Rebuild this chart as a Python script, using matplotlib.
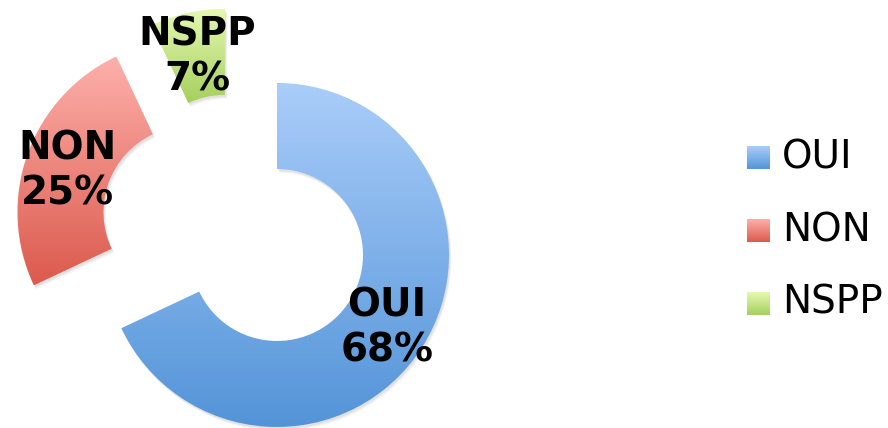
import matplotlib.pyplot as plt
import numpy as np
from matplotlib.colors import LinearSegmentedColormap
from matplotlib.patches import Rectangle, Wedge

labels = ['OUI', 'NON', 'NSPP']
values = [68, 25, 7]
top_colors = ['#aacdfa', '#fdb0ab', '#e5f9b2']
bottom_colors = ['#5394d8', '#dc5a4d', '#a6cf5e']

W, H = 888, 428
fig = plt.figure(figsize=(W / 100, H / 100), dpi=100)
ax = fig.add_axes([0, 0, 1, 1])

R = 172
center = (235.6, H - 228.7)
# pie's explode is an absolute offset, so scale it by the radius
wedges, _ = ax.pie(values, startangle=90, counterclock=False, explode=[0.285 * R] * 3,
                   radius=R, center=center, wedgeprops=dict(width=R / 2, linewidth=0))

grad = np.linspace(0, 1, 256).reshape(-1, 1)


def fill_gradient(patch, i):
    cmap = LinearSegmentedColormap.from_list('g%d' % i, [bottom_colors[i], top_colors[i]])
    bb = patch.get_path().get_extents(patch.get_patch_transform())
    im = ax.imshow(grad, extent=[bb.x0, bb.x1, bb.y0, bb.y1], origin='lower',
                   cmap=cmap, aspect='auto', zorder=2, interpolation='bicubic')
    im.set_clip_path(patch)
    patch.set_facecolor('none')


for i, w in enumerate(wedges):
    # soft shadow
    for k, a in [(4, 0.06), (3, 0.08), (2, 0.1)]:
        sh = Wedge((w.center[0] + k * 0.6, w.center[1] - k), w.r, w.theta1, w.theta2,
                   width=w.width, facecolor='#808080', alpha=a, linewidth=0, zorder=1)
        ax.add_patch(sh)
    fill_gradient(w, i)

# slice labels (block centres, pixel layout)
label_pos = [(387, 328), (67, 171), (197, 57)]
for (x, y), lab, v in zip(label_pos, labels, values):
    ax.text(x, H - y, '%s\n%d%%' % (lab, v), ha='center', va='center', fontsize=28,
            fontweight='bold', linespacing=1.25, color='black', zorder=5)

# legend
for i, lab in enumerate(labels):
    yc = H - (157 + 73 * i)
    r = Rectangle((747, yc - 11.5), 23, 23, facecolor='none', linewidth=0)
    ax.add_patch(r)
    fill_gradient(r, i)
    ax.text(782, yc, lab, ha='left', va='center', fontsize=28, color='black')

ax.set_xlim(0, W)
ax.set_ylim(0, H)
ax.set_aspect('equal')
ax.axis('off')
fig.savefig('out.png', dpi=100)
